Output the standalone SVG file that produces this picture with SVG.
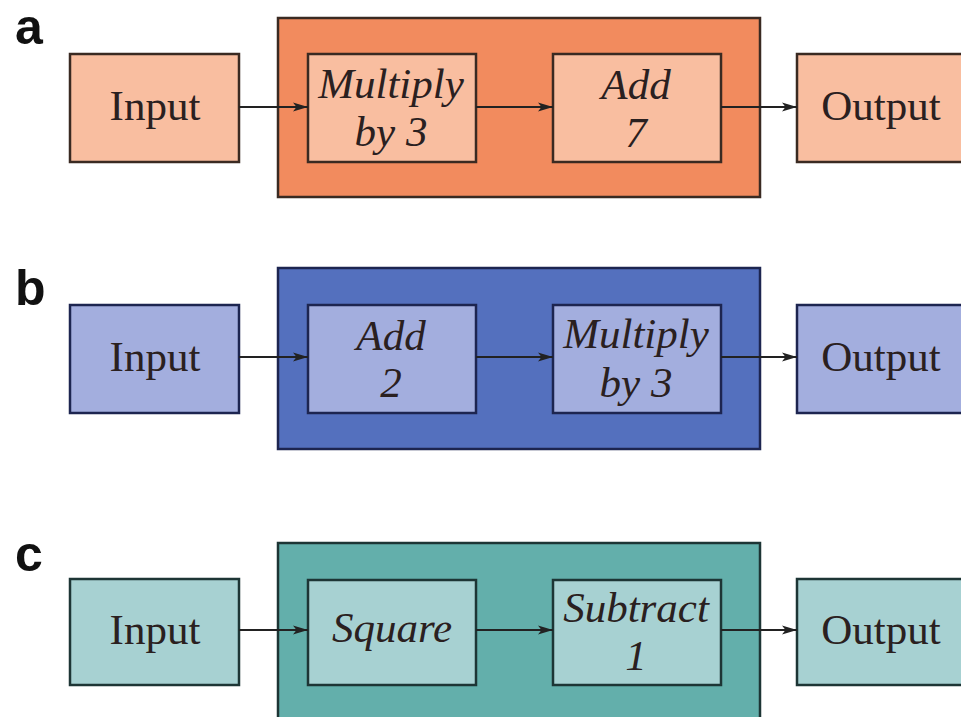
<svg xmlns="http://www.w3.org/2000/svg" width="961" height="717" viewBox="0 0 961 717">
<defs>
<style>
.lbl{font-family:"Liberation Sans",Arial,sans-serif;font-weight:bold;font-size:50px;fill:#111}
.t{font-family:"Liberation Serif","Times New Roman",serif;font-size:43px;fill:#2a2020;text-anchor:middle}
.i{font-style:italic}
.aO{fill:#F28B5E;stroke:#3a2a22;stroke-width:2.5}
.aI{fill:#F9BEA0;stroke:#3a2a22;stroke-width:2.5}
.bO{fill:#5470BE;stroke:#1d2550;stroke-width:2.5}
.bI{fill:#A3AEDE;stroke:#1d2550;stroke-width:2.5}
.cO{fill:#63AFAB;stroke:#1d3535;stroke-width:2.5}
.cI{fill:#A7D1D2;stroke:#1d3535;stroke-width:2.5}
.con{stroke:#222;stroke-width:2;fill:none;marker-end:url(#ah)}
</style>
<marker id="ah" markerUnits="userSpaceOnUse" markerWidth="16" markerHeight="10" refX="15" refY="5" orient="auto">
<path d="M0,0.5 L15,5 L0,9.5 L3.5,5 Z" fill="#222"/>
</marker>
</defs>
<rect width="961" height="717" fill="#ffffff"/>

<!-- Row a -->
<text class="lbl" x="15" y="44">a</text>
<g id="a-group"><rect class="aO" x="278" y="18" width="482" height="179"/></g>
<g id="a-input"><rect class="aI" x="70" y="54" width="169" height="108"/><text class="t" x="155" y="120">Input</text></g>
<g id="a-multiply"><rect class="aI" x="308" y="54" width="168" height="108"/><text class="t i" x="391" y="98">Multiply</text><text class="t i" x="391" y="146">by 3</text></g>
<g id="a-add"><rect class="aI" x="553" y="54" width="168" height="108"/><text class="t i" x="636" y="99">Add</text><text class="t i" x="636" y="147">7</text></g>
<g id="a-output"><rect class="aI" x="797" y="54" width="168" height="108"/><text class="t" x="881" y="120">Output</text></g>

<!-- Row b -->
<text class="lbl" x="15" y="305">b</text>
<g id="b-group"><rect class="bO" x="278" y="268" width="482" height="181"/></g>
<g id="b-input"><rect class="bI" x="70" y="305" width="169" height="108"/><text class="t" x="155" y="371">Input</text></g>
<g id="b-add"><rect class="bI" x="308" y="305" width="168" height="108"/><text class="t i" x="391" y="350">Add</text><text class="t i" x="391" y="397">2</text></g>
<g id="b-multiply"><rect class="bI" x="553" y="305" width="168" height="108"/><text class="t i" x="636" y="348">Multiply</text><text class="t i" x="636" y="397">by 3</text></g>
<g id="b-output"><rect class="bI" x="797" y="305" width="168" height="108"/><text class="t" x="881" y="371">Output</text></g>

<!-- Row c -->
<text class="lbl" x="15" y="571">c</text>
<g id="c-group"><rect class="cO" x="278" y="543" width="482" height="190"/></g>
<g id="c-input"><rect class="cI" x="70" y="579" width="169" height="106"/><text class="t" x="155" y="644">Input</text></g>
<g id="c-square"><rect class="cI" x="308" y="580" width="168" height="105"/><text class="t i" x="392" y="642">Square</text></g>
<g id="c-subtract"><rect class="cI" x="553" y="580" width="168" height="105"/><text class="t i" x="636" y="622">Subtract</text><text class="t i" x="636" y="670">1</text></g>
<g id="c-output"><rect class="cI" x="797" y="579" width="168" height="106"/><text class="t" x="881" y="644">Output</text></g>

<g id="connectors">
<line class="con" x1="239" y1="107" x2="308" y2="107"/>
<line class="con" x1="476" y1="107" x2="553" y2="107"/>
<line class="con" x1="721" y1="107" x2="797" y2="107"/>
<line class="con" x1="239" y1="357" x2="308" y2="357"/>
<line class="con" x1="476" y1="357" x2="553" y2="357"/>
<line class="con" x1="721" y1="357" x2="797" y2="357"/>
<line class="con" x1="239" y1="630" x2="308" y2="630"/>
<line class="con" x1="476" y1="630" x2="553" y2="630"/>
<line class="con" x1="721" y1="630" x2="797" y2="630"/>
</g>
</svg>
